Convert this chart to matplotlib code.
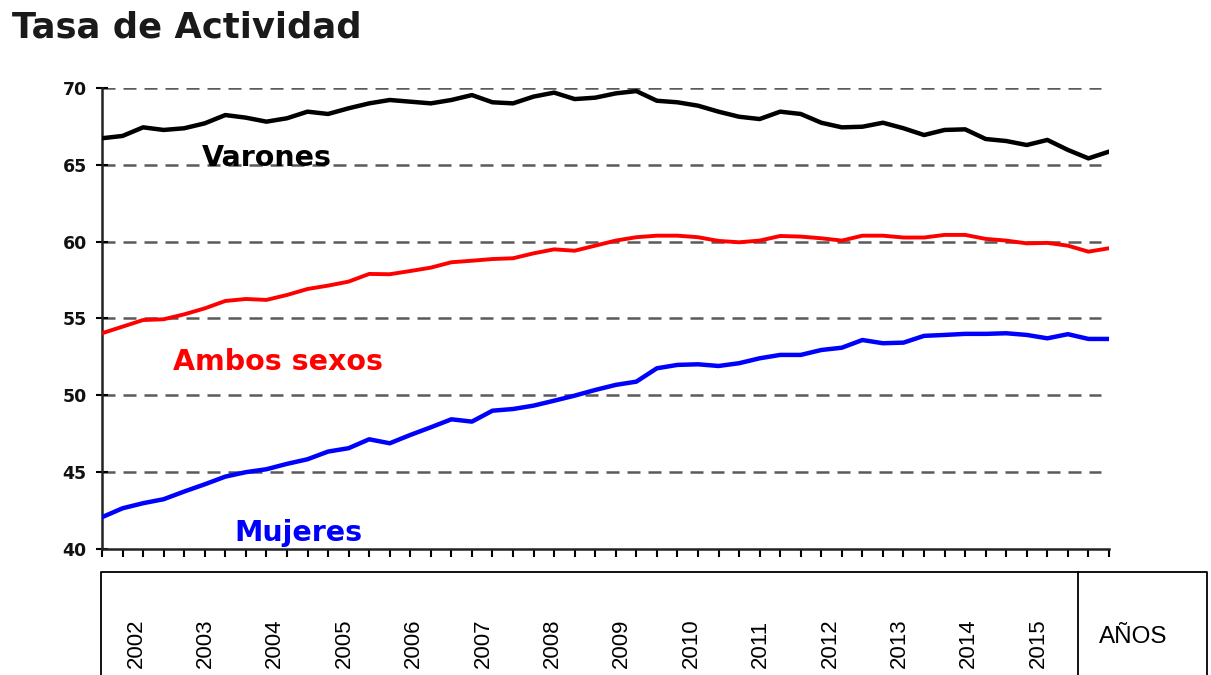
import matplotlib
matplotlib.use("Agg")
import matplotlib.pyplot as plt
import numpy as np

varones = [66.73, 66.88, 67.44, 67.27, 67.38, 67.70, 68.24, 68.07, 67.81, 68.03,
           68.46, 68.31, 68.68, 69.00, 69.22, 69.11, 69.00, 69.22, 69.54, 69.07,
           69.00, 69.44, 69.70, 69.28, 69.37, 69.65, 69.80, 69.17, 69.07, 68.85,
           68.46, 68.13, 67.98, 68.46, 68.31, 67.74, 67.44, 67.48, 67.74, 67.38,
           66.94, 67.27, 67.31, 66.68, 66.55, 66.29, 66.62, 65.97, 65.42, 65.86]
ambos = [54.04, 54.47, 54.90, 54.95, 55.27, 55.66, 56.14, 56.27, 56.21, 56.53,
         56.92, 57.14, 57.40, 57.90, 57.88, 58.09, 58.31, 58.66, 58.76, 58.87,
         58.92, 59.24, 59.50, 59.41, 59.74, 60.07, 60.29, 60.39, 60.39, 60.29,
         60.05, 59.96, 60.07, 60.37, 60.33, 60.22, 60.07, 60.39, 60.39, 60.27,
         60.27, 60.44, 60.44, 60.18, 60.07, 59.89, 59.92, 59.74, 59.35, 59.57]
mujeres = [42.07, 42.65, 42.98, 43.24, 43.74, 44.21, 44.71, 45.00, 45.19, 45.54,
           45.84, 46.34, 46.56, 47.14, 46.88, 47.42, 47.92, 48.44, 48.29, 49.00,
           49.11, 49.33, 49.65, 49.98, 50.35, 50.68, 50.89, 51.76, 51.98, 52.02,
           51.91, 52.09, 52.41, 52.63, 52.63, 52.95, 53.10, 53.60, 53.39, 53.43,
           53.87, 53.93, 54.00, 54.00, 54.04, 53.93, 53.71, 53.98, 53.67, 53.67]
years = ["2002", "2003", "2004", "2005", "2006", "2007", "2008",
         "2009", "2010", "2011", "2012", "2013", "2014", "2015"]
yticks = [40, 45, 50, 55, 60, 65, 70]
title = "Tasa de Actividad"
series_labels = ["Varones", "Ambos sexos", "Mujeres"]
axis_word = "AÑOS"

W, H = 1211, 675
fig = plt.figure(figsize=(W / 100, H / 100), dpi=100)
fig.patch.set_facecolor("white")

ax = fig.add_axes([102 / W, 1 - 549 / H, (1109 - 102) / W, (549 - 88) / H])
x = np.arange(len(varones))

# grid
for yv in yticks[1:]:
    ax.axhline(yv, xmin=0, xmax=0.992, color="#5a5a5a", lw=1.8,
               dashes=(5.2, 3.2), zorder=1)

ax.plot(x, varones, color="black", lw=3.2, zorder=3, solid_joinstyle="round")
ax.plot(x, ambos, color="#ff0000", lw=2.8, zorder=3, solid_joinstyle="round")
ax.plot(x, mujeres, color="#0000ff", lw=3.2, zorder=3, solid_joinstyle="round")

ax.set_xlim(0, len(varones) - 1)
ax.set_ylim(40, 70)
ax.set_yticks(yticks)
ax.set_yticklabels([str(v) for v in yticks], fontsize=12.5,
                   fontweight="bold", family="DejaVu Sans", color="#111111")
ax.set_xticks(x)
ax.set_xticklabels([])
ax.tick_params(axis="y", direction="inout", length=8, width=1.5, pad=7)
ax.tick_params(axis="x", direction="out", length=6, width=1.5)
for s in ["top", "right"]:
    ax.spines[s].set_visible(False)
for s in ["left", "bottom"]:
    ax.spines[s].set_linewidth(1.8)
    ax.spines[s].set_color("#222222")

txt_kw = dict(fontsize=20.5, fontweight="bold", family="DejaVu Sans",
              ha="center", va="center", zorder=4)
ax.text(8.0, 65.45, series_labels[0], color="black", **txt_kw)
ax.text(8.57, 52.17, series_labels[1], color="#ff0000", **txt_kw)
ax.text(9.55, 41.05, series_labels[2], color="#0000ff", **txt_kw)

# title
fig.text(12 / W, 1 - 28 / H, title, fontsize=25.5, fontweight="bold",
         family="DejaVu Sans", color="#1a1a1a", ha="left", va="center")

# table below the chart (overlay in pixel coordinates)
ov = fig.add_axes([0, 0, 1, 1], facecolor="none")
ov.set_xlim(0, W)
ov.set_ylim(H, 0)
ov.axis("off")
ov.plot([101, 101, 1207, 1207], [H + 5, 572, 572, H + 5], color="black", lw=1.3)
ov.plot([1078, 1078], [572, H + 5], color="black", lw=1.3)
for k, yr in enumerate(years):
    ov.text(136 + 69.4 * k, 668, yr, rotation=90, ha="center", va="bottom",
            fontsize=16, family="Liberation Sans", color="black")
ov.text(1133, 637, axis_word, ha="center", va="center", fontsize=17.5,
        family="Liberation Sans", color="black")

fig.savefig("out.png", dpi=100, facecolor="white")
